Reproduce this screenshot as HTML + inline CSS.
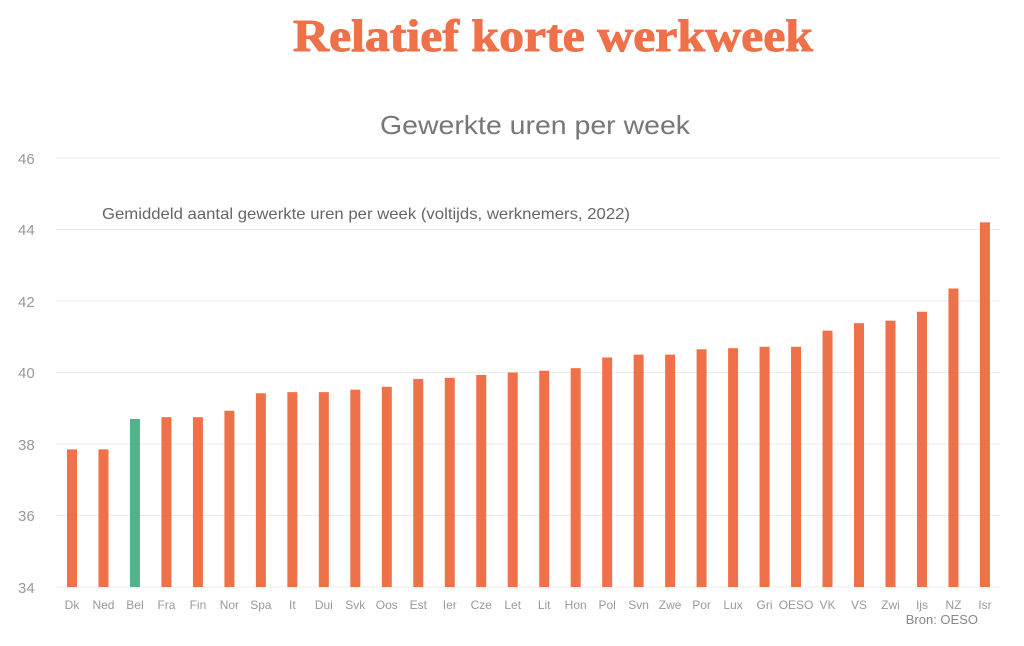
<!DOCTYPE html>
<html><head><meta charset="utf-8"><style>
body{margin:0;background:#fff;}
svg{display:block;font-family:"Liberation Sans",sans-serif;}
</style></head><body>
<svg width="1024" height="646" viewBox="0 0 1024 646">
<text x="293" y="51" font-family="Liberation Serif,serif" font-weight="bold" font-size="46" fill="#ee7149" stroke="#ee7149" stroke-width="1" textLength="520" lengthAdjust="spacingAndGlyphs">Relatief korte werkweek</text>
<text x="380" y="134" font-size="26" fill="#777" textLength="310" lengthAdjust="spacingAndGlyphs">Gewerkte uren per week</text>
<g stroke="#ebebeb" stroke-width="1">
<line x1="56" x2="1000" y1="158" y2="158"/><line x1="56" x2="1000" y1="229.5" y2="229.5"/><line x1="56" x2="1000" y1="301" y2="301"/><line x1="56" x2="1000" y1="372.5" y2="372.5"/><line x1="56" x2="1000" y1="444" y2="444"/><line x1="56" x2="1000" y1="515.5" y2="515.5"/><line x1="56" x2="1000" y1="587" y2="587"/>
</g>
<g font-size="15" fill="#999" text-anchor="start">
<text x="18" y="164">46</text><text x="18" y="235">44</text><text x="18" y="307">42</text><text x="18" y="378">40</text><text x="18" y="450">38</text><text x="18" y="521">36</text><text x="18" y="593">34</text>
</g>
<text x="102" y="219" font-size="16" fill="#666" textLength="528" lengthAdjust="spacingAndGlyphs">Gemiddeld aantal gewerkte uren per week (voltijds, werknemers, 2022)</text>
<g id="bars"></g>
<g id="labels" font-size="12" fill="#999" text-anchor="middle"></g>
<text x="978" y="624" text-anchor="end" font-size="13" fill="#888">Bron: OESO</text>
</svg>
<script>
var d=[["Dk",37.85],["Ned",37.85],["Bel",38.7],["Fra",38.75],["Fin",38.75],["Nor",38.93],["Spa",39.42],["It",39.45],["Dui",39.45],["Svk",39.52],["Oos",39.6],["Est",39.82],["Ier",39.85],["Cze",39.93],["Let",40.0],["Lit",40.05],["Hon",40.12],["Pol",40.42],["Svn",40.5],["Zwe",40.5],["Por",40.65],["Lux",40.68],["Gri",40.72],["OESO",40.72],["VK",41.17],["VS",41.38],["Zwi",41.45],["Ijs",41.7],["NZ",42.35],["Isr",44.2]];
var ns="http://www.w3.org/2000/svg",b=document.getElementById("bars"),l=document.getElementById("labels");
d.forEach(function(e,i){var cx=72+i*31.48,y=587-(e[1]-34)*35.75;
var r=document.createElementNS(ns,"rect");r.setAttribute("x",cx-5);r.setAttribute("y",y);r.setAttribute("width",10);r.setAttribute("height",587-y);r.setAttribute("fill",e[0]=="Bel"?"#52b28a":"#ee7149");b.appendChild(r);
var t=document.createElementNS(ns,"text");t.setAttribute("x",cx);t.setAttribute("y",609);t.textContent=e[0];l.appendChild(t);});
</script>
</body></html>
